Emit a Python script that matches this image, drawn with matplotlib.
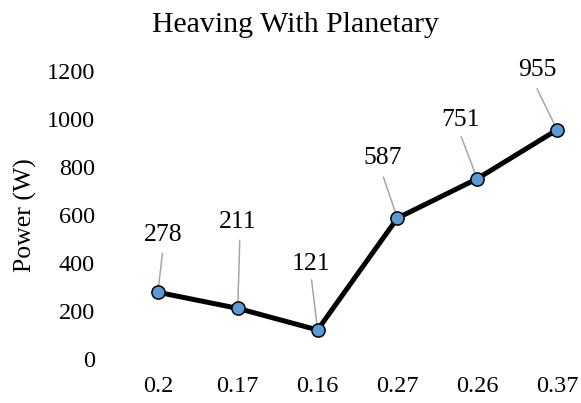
import matplotlib
matplotlib.use("Agg")
import matplotlib.pyplot as plt

# data
ratios = ["0.2", "0.17", "0.16", "0.27", "0.26", "0.37"]
power = [278, 211, 121, 587, 751, 955]
yticks = [0, 200, 400, 600, 800, 1000, 1200]

# label placement (pixels from marker): text centre, leader-line end
label_off = [(5, 57), (0, 86), (-7, 66), (-15, 60), (-17, 59), (-20, 60)]
leader_off = [(4.5, 39), (2, 68), (-6, 50), (-14, 41), (-16, 42), (-20, 41)]

plt.rcParams['font.family'] = ['Liberation Serif', 'DejaVu Serif']

fig = plt.figure(figsize=(5.81, 4.03), dpi=100)
ax = fig.add_axes([118/581, 44/403, 463/581, 288/403])

x = range(len(ratios))
ax.plot(x, power, color='black', lw=3.6, zorder=3, clip_on=False,
        marker='o', ms=9.5, mfc='#5b9bd5', mec='black', mew=1.1)

for i, v in enumerate(power):
    ax.annotate('', xy=(i, v), xytext=leader_off[i], textcoords='offset pixels',
                arrowprops=dict(arrowstyle='-', color='#a6a6a6', lw=1.1,
                                shrinkA=0, shrinkB=0), zorder=2)
    ax.annotate(str(v), xy=(i, v), xytext=label_off[i], textcoords='offset pixels',
                ha='center', va='center', fontsize=18.5)

ax.set_xlim(-0.5, 5.3)
ax.set_ylim(0, 1200)
ax.set_xticks(list(x))
ax.set_xticklabels(ratios)
ax.set_yticks(yticks)
ax.tick_params(axis='both', length=0, labelsize=17.5)
ax.tick_params(axis='y', pad=16.5)
ax.tick_params(axis='x', pad=12)
for s in ax.spines.values():
    s.set_visible(False)

ax.set_ylabel("Power (W)", fontsize=18.5)
ax.yaxis.set_label_coords(-0.175, 0.5)

fig.text(296/581, 1 - 32/403, "Heaving With Planetary", ha='center',
         va='baseline', fontsize=21.5)

fig.savefig("out.png", dpi=100)
